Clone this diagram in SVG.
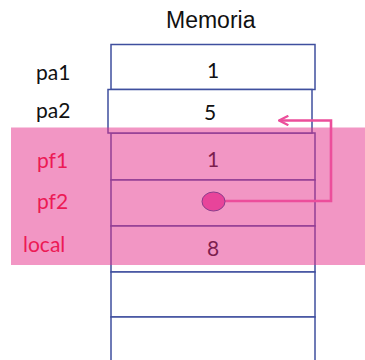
<svg xmlns="http://www.w3.org/2000/svg" width="365" height="360" viewBox="0 0 365 360">
  <defs>
    <style>
      .cell { fill: #ffffff; stroke: #3f4f9e; stroke-width: 1.5; }
      .title { font-family: "Liberation Sans", Arial, sans-serif; font-size: 23px; fill: #111111; }
      .lbl { font-family: Lato, "Open Sans", sans-serif; font-size: 21px; fill: #111111; }
      .frame-lbl { font-family: Lato, "Open Sans", sans-serif; font-size: 21px; fill: #ec1a55; }
      .val { font-family: Lato, "Open Sans", sans-serif; font-size: 21px; fill: #111111; text-anchor: middle; }
      .link { fill: none; stroke: #ec4e9b; stroke-width: 2.6; }
    </style>
    <marker id="head" viewBox="0 0 10 10" refX="9" refY="5" markerWidth="4.5" markerHeight="4.5" orient="auto">
      <path d="M1,1 L9,5 L1,9" fill="none" stroke="#ec4e9b" stroke-width="2"/>
    </marker>
  </defs>

  <text class="title" x="166" y="28">Memoria</text>

  <!-- memory cells -->
  <g id="cell-pa1">
    <rect class="cell" x="111" y="44.5" width="204" height="45"/>
    <text class="lbl" x="36" y="80">pa1</text>
    <text class="val" x="213" y="78">1</text>
  </g>
  <g id="cell-pf1">
    <rect class="cell" x="111" y="133" width="204" height="47"/>
    <text class="val" x="213" y="167">1</text>
  </g>
  <g id="cell-pf2">
    <rect class="cell" x="111" y="180" width="204" height="46"/>
  </g>
  <g id="cell-local">
    <rect class="cell" x="111" y="226" width="204" height="46"/>
    <text class="val" x="213" y="256">8</text>
  </g>
  <g id="cell-empty1">
    <rect class="cell" x="111" y="272" width="204" height="45"/>
  </g>
  <g id="cell-empty2">
    <rect class="cell" x="111" y="317" width="204" height="50"/>
  </g>
  <g id="cell-pa2">
    <rect class="cell" x="108" y="89.5" width="204" height="43.5"/>
    <text class="lbl" x="36" y="118">pa2</text>
    <text class="val" x="210" y="120">5</text>
  </g>

  <!-- stack frame highlight -->
  <g id="frame">
    <rect x="11" y="127.5" width="354" height="137.5" fill="#e62e8a" fill-opacity="0.5"/>
    <text class="frame-lbl" x="37" y="168">pf1</text>
    <text class="frame-lbl" x="37" y="209">pf2</text>
    <text class="frame-lbl" x="23" y="252">local</text>
  </g>

  <!-- pointer from pf2 to pa2 -->
  <g id="connectors">
    <path class="link" d="M225,201 H331 V120.5 H279" marker-end="url(#head)"/>
    <ellipse cx="213.5" cy="201.5" rx="11.5" ry="9.5" fill="#e8449a" stroke="#8a3c8c" stroke-width="1"/>
  </g>
</svg>
